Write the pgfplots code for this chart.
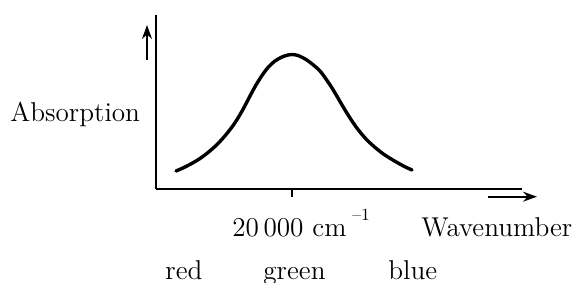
\documentclass[border=0pt]{standalone}
\usepackage{pgfplots}
\pgfplotsset{compat=1.18}
\usetikzlibrary{arrows.meta}
\begin{document}
\begin{tikzpicture}
\begin{axis}[
  scale only axis,
  width=183pt, height=87pt,
  xmin=156, xmax=522, ymin=94, ymax=268,
  axis lines=left,
  axis line style={-, line width=1pt, black},
  xtick={292}, xticklabels={},
  ytick=\empty,
  tick align=outside,
  major tick length=3.8pt,
  tick style={black, line width=0.6pt},
  clip=false,
]
\addplot[black, line width=1.7pt, smooth, line cap=round] coordinates {
(176,112) (184,115.5) (192,119.7) (200,124.5) (208,130.5) (216,137.5)
(224,146) (232,156) (238,165) (244,175.5) (250,187) (256,198) (262,207.5)
(268,215.5) (275,222) (282,226) (288,228) (292,228.5) (298,227.5)
(306,223.5) (314,217.5) (320,212) (326,204) (332,195) (338,185)
(345,173) (352,162) (358,153.5) (366,144) (374,136.5) (382,130)
(390,124.7) (398,120) (405,116.2) (412,113)
};
\coordinate (ll) at (axis cs:0,0);
\coordinate (ur) at (axis cs:577,283);
\draw[line width=0.8pt, -{Stealth[length=7pt, width=5pt]}] (axis cs:147,223) -- (axis cs:147,258);
\draw[line width=0.8pt, -{Stealth[length=7pt, width=5pt]}] (axis cs:488,86.3) -- (axis cs:537,86.3);
\node[anchor=base west, inner sep=0pt, font=\fontsize{13.6}{15}\selectfont] at (axis cs:10,162) {Absorption};
\node[anchor=base west, inner sep=0pt, font=\fontsize{13.6}{15}\selectfont] at (axis cs:232,46.5) {20\,000 cm};
\node[anchor=base west, inner sep=0pt, font=\fontsize{8.5}{9}\selectfont] at (axis cs:352,63) {--1};
\node[anchor=base west, inner sep=0pt, font=\fontsize{13.6}{15}\selectfont] at (axis cs:421,46.5) {Wavenumber};
\node[anchor=base west, inner sep=0pt, font=\fontsize{13.6}{15}\selectfont] at (axis cs:165,4) {red};
\node[anchor=base west, inner sep=0pt, font=\fontsize{13.6}{15}\selectfont] at (axis cs:263,4) {green};
\node[anchor=base west, inner sep=0pt, font=\fontsize{13.6}{15}\selectfont] at (axis cs:388,4) {blue};
\end{axis}
\pgfresetboundingbox
\path (ll) rectangle (ur);
\end{tikzpicture}
\end{document}
